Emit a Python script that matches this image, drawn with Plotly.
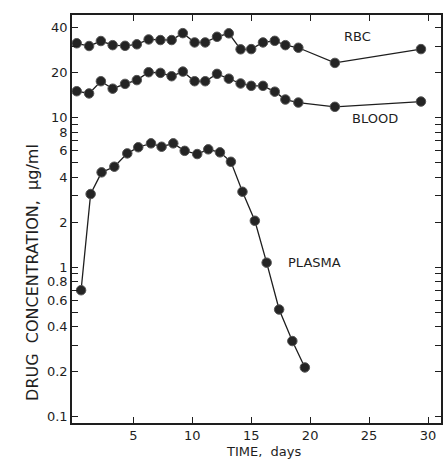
import math
import plotly.graph_objects as go

# ---- data ----
rbc_days = [0.2, 1.25, 2.25, 3.25, 4.3, 5.3, 6.3, 7.3, 8.25, 9.2, 10.2, 11.1, 12.1,
            13.1, 14.1, 15.0, 16.0, 17.0, 17.9, 19.0, 22.1, 29.4]
rbc_conc = [31.4, 30.1, 32.5, 30.5, 30.2, 30.9, 33.3, 33.0, 33.0, 36.7, 31.8, 31.8, 34.7,
            36.6, 28.6, 28.7, 31.8, 32.6, 30.5, 29.3, 23.2, 28.7]

blood_days = rbc_days
blood_conc = [15.0, 14.5, 17.5, 15.6, 16.8, 17.8, 20.1, 19.9, 18.9, 20.3, 17.5, 17.5, 19.6,
              18.2, 16.9, 16.3, 16.3, 14.9, 13.2, 12.6, 11.8, 12.8]

plasma_days = [0.57, 1.38, 2.31, 3.39, 4.49, 5.42, 6.5, 7.4, 8.39, 9.36, 10.42, 11.36,
               12.35, 13.28, 14.26, 15.31, 16.31, 17.37, 18.49, 19.55]
plasma_conc = [0.70, 3.08, 4.30, 4.69, 5.76, 6.33, 6.72, 6.38, 6.72, 5.99, 5.70, 6.13,
               5.85, 5.06, 3.19, 2.04, 1.07, 0.52, 0.32, 0.213]

x_ticks = [5, 10, 15, 20, 25, 30]
y_ticks = [0.1, 0.2, 0.4, 0.6, 0.8, 1, 2, 4, 6, 8, 10, 20, 40]
y_ticktext = ["0.1", "0.2", "0.4", "0.6", "0.8", "1", "2", "4", "6", "8", "10", "20", "40"]
y_minor = [0.3, 0.5, 0.7, 0.9, 3, 5, 7, 9, 30]

series_labels = ["RBC", "BLOOD", "PLASMA"]
label_pos = [(24.0, 34.8), (25.5, 9.9), (20.4, 1.07)]

INK = "#1e1e1e"
FONT = "DejaVu Sans"

fig = go.Figure()
for xs, ys in [(rbc_days, rbc_conc), (blood_days, blood_conc), (plasma_days, plasma_conc)]:
    fig.add_trace(go.Scatter(
        x=xs, y=ys, mode="lines+markers",
        line=dict(color=INK, width=1.3),
        marker=dict(size=9.5, color="#242424", line=dict(color="#555", width=1)),
        showlegend=False, hoverinfo="skip"))

for txt, (xd, yv) in zip(series_labels, label_pos):
    fig.add_annotation(x=xd, y=math.log10(yv), xref="x", yref="y", text=txt,
                       showarrow=False, font=dict(family=FONT, size=13, color=INK))

fig.add_annotation(x=-0.14, y=0.37, xref="paper", yref="paper",
                   text="DRUG  CONCENTRATION,  µg/ml", textangle=-90, showarrow=False,
                   font=dict(family=FONT, size=16, color=INK))
fig.add_annotation(x=0.52, y=-0.071, xref="paper", yref="paper", yanchor="middle",
                   text="TIME,  days", showarrow=False,
                   font=dict(family=FONT, size=13, color=INK))

fig.update_xaxes(range=[-0.2, 31.1], tickvals=x_ticks, ticks="inside", ticklen=6,
                 tickwidth=1.3, tickcolor=INK, showline=True, linecolor=INK, linewidth=1.5,
                 mirror="ticks", showgrid=False, zeroline=False,
                 tickfont=dict(family=FONT, size=13, color=INK))
fig.update_yaxes(type="log", range=[-1.043, 1.686], tickvals=y_ticks, ticktext=y_ticktext,
                 ticks="inside", ticklen=6, tickwidth=1.3, tickcolor=INK,
                 minor=dict(tickvals=y_minor, ticks="inside", ticklen=6, tickcolor=INK, tickwidth=1),
                 showline=True, linecolor=INK, linewidth=1.5, mirror="ticks",
                 showgrid=False, zeroline=False,
                 tickfont=dict(family=FONT, size=13, color=INK))

fig.update_layout(width=448, height=463, margin=dict(l=72, r=5, t=15, b=40),
                  paper_bgcolor="white", plot_bgcolor="white")

fig.write_html("out.html")
